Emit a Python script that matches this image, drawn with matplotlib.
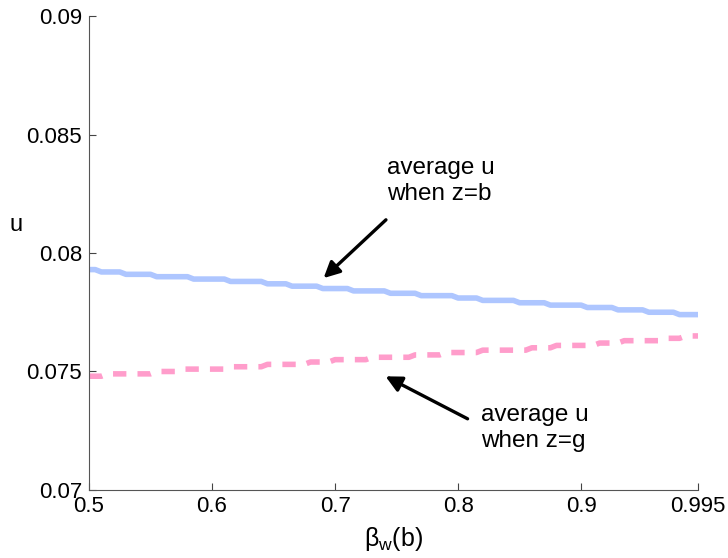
import matplotlib
matplotlib.use('Agg')
import matplotlib.pyplot as plt

plt.rcParams['font.family'] = ['Liberation Sans', 'DejaVu Sans']
plt.rcParams['mathtext.fontset'] = 'custom'
plt.rcParams['mathtext.rm'] = 'Liberation Sans'
plt.rcParams['mathtext.it'] = 'Liberation Sans'

# step data (each level: start x, end x)
u_b_x = [0.500, 0.505, 0.510, 0.525, 0.530, 0.550, 0.555, 0.580, 0.585, 0.610,
         0.615, 0.640, 0.645, 0.660, 0.665, 0.685, 0.690, 0.710, 0.715, 0.740,
         0.745, 0.765, 0.770, 0.795, 0.800, 0.815, 0.820, 0.845, 0.850, 0.870,
         0.875, 0.900, 0.905, 0.925, 0.930, 0.950, 0.955, 0.975, 0.980, 0.995]
u_b_y = [0.0793, 0.0793, 0.0792, 0.0792, 0.0791, 0.0791, 0.0790, 0.0790, 0.0789, 0.0789,
         0.0788, 0.0788, 0.0787, 0.0787, 0.0786, 0.0786, 0.0785, 0.0785, 0.0784, 0.0784,
         0.0783, 0.0783, 0.0782, 0.0782, 0.0781, 0.0781, 0.0780, 0.0780, 0.0779, 0.0779,
         0.0778, 0.0778, 0.0777, 0.0777, 0.0776, 0.0776, 0.0775, 0.0775, 0.0774, 0.0774]

u_g_x = [0.500, 0.510, 0.515, 0.550, 0.555, 0.570, 0.575, 0.610, 0.615, 0.640,
         0.645, 0.675, 0.680, 0.695, 0.700, 0.725, 0.730, 0.760, 0.765, 0.785,
         0.790, 0.815, 0.820, 0.855, 0.860, 0.875, 0.880, 0.910, 0.915, 0.930,
         0.935, 0.965, 0.970, 0.980, 0.985, 0.995]
u_g_y = [0.0748, 0.0748, 0.0749, 0.0749, 0.0750, 0.0750, 0.0751, 0.0751, 0.0752, 0.0752,
         0.0753, 0.0753, 0.0754, 0.0754, 0.0755, 0.0755, 0.0756, 0.0756, 0.0757, 0.0757,
         0.0758, 0.0758, 0.0759, 0.0759, 0.0760, 0.0760, 0.0761, 0.0761, 0.0762, 0.0762,
         0.0763, 0.0763, 0.0764, 0.0764, 0.0765, 0.0765]

x_ticks = [0.5, 0.6, 0.7, 0.8, 0.9, 0.995]
x_tick_labels = ['0.5', '0.6', '0.7', '0.8', '0.9', '0.995']
y_ticks = [0.07, 0.075, 0.08, 0.085, 0.09]
y_tick_labels = ['0.07', '0.075', '0.08', '0.085', '0.09']

fig = plt.figure(figsize=(7.28, 5.58), dpi=100)
ax = fig.add_axes([0.1223, 0.1219, 0.8365, 0.8494])

ax.plot(u_b_x, u_b_y, color='#aec6ff', lw=4, solid_capstyle='butt')
ax.plot(u_g_x, u_g_y, color='#ff9dcb', lw=4, dashes=(2.4, 2.0),
        dash_capstyle='butt')

ax.set_xlim(0.5, 0.995)
ax.set_ylim(0.07, 0.09)
ax.set_xticks(x_ticks)
ax.set_xticklabels(x_tick_labels)
ax.set_yticks(y_ticks)
ax.set_yticklabels(y_tick_labels)
ax.tick_params(direction='in', length=5, width=0.8, colors='#444444',
               labelcolor='black', labelsize=16)
ax.tick_params(axis='x', pad=4)
ax.tick_params(axis='y', pad=5)
ax.spines['top'].set_visible(False)
ax.spines['right'].set_visible(False)
ax.spines['left'].set_color('#555555')
ax.spines['bottom'].set_color('#555555')

ax.set_xlabel(r'$\mathrm{β_w(b)}$', fontsize=18, labelpad=6)
ax.set_ylabel('u', fontsize=17, rotation=0)
ax.yaxis.set_label_coords(-0.12, 0.535)

arrow = dict(arrowstyle='-|>', color='black', lw=2.4, mutation_scale=24)
ax.annotate('', xy=(0.689, 0.07886), xytext=(0.743, 0.08148), arrowprops=arrow)
ax.text(0.742, 0.08304, 'average u\nwhen z=b', fontsize=17.5, va='center',
        ha='left', linespacing=1.2)
ax.annotate('', xy=(0.739, 0.07485), xytext=(0.8097, 0.07295), arrowprops=arrow)
ax.text(0.8186, 0.07262, 'average u\nwhen z=g', fontsize=17.5, va='center',
        ha='left', linespacing=1.2)

fig.savefig('out.png', dpi=100)
